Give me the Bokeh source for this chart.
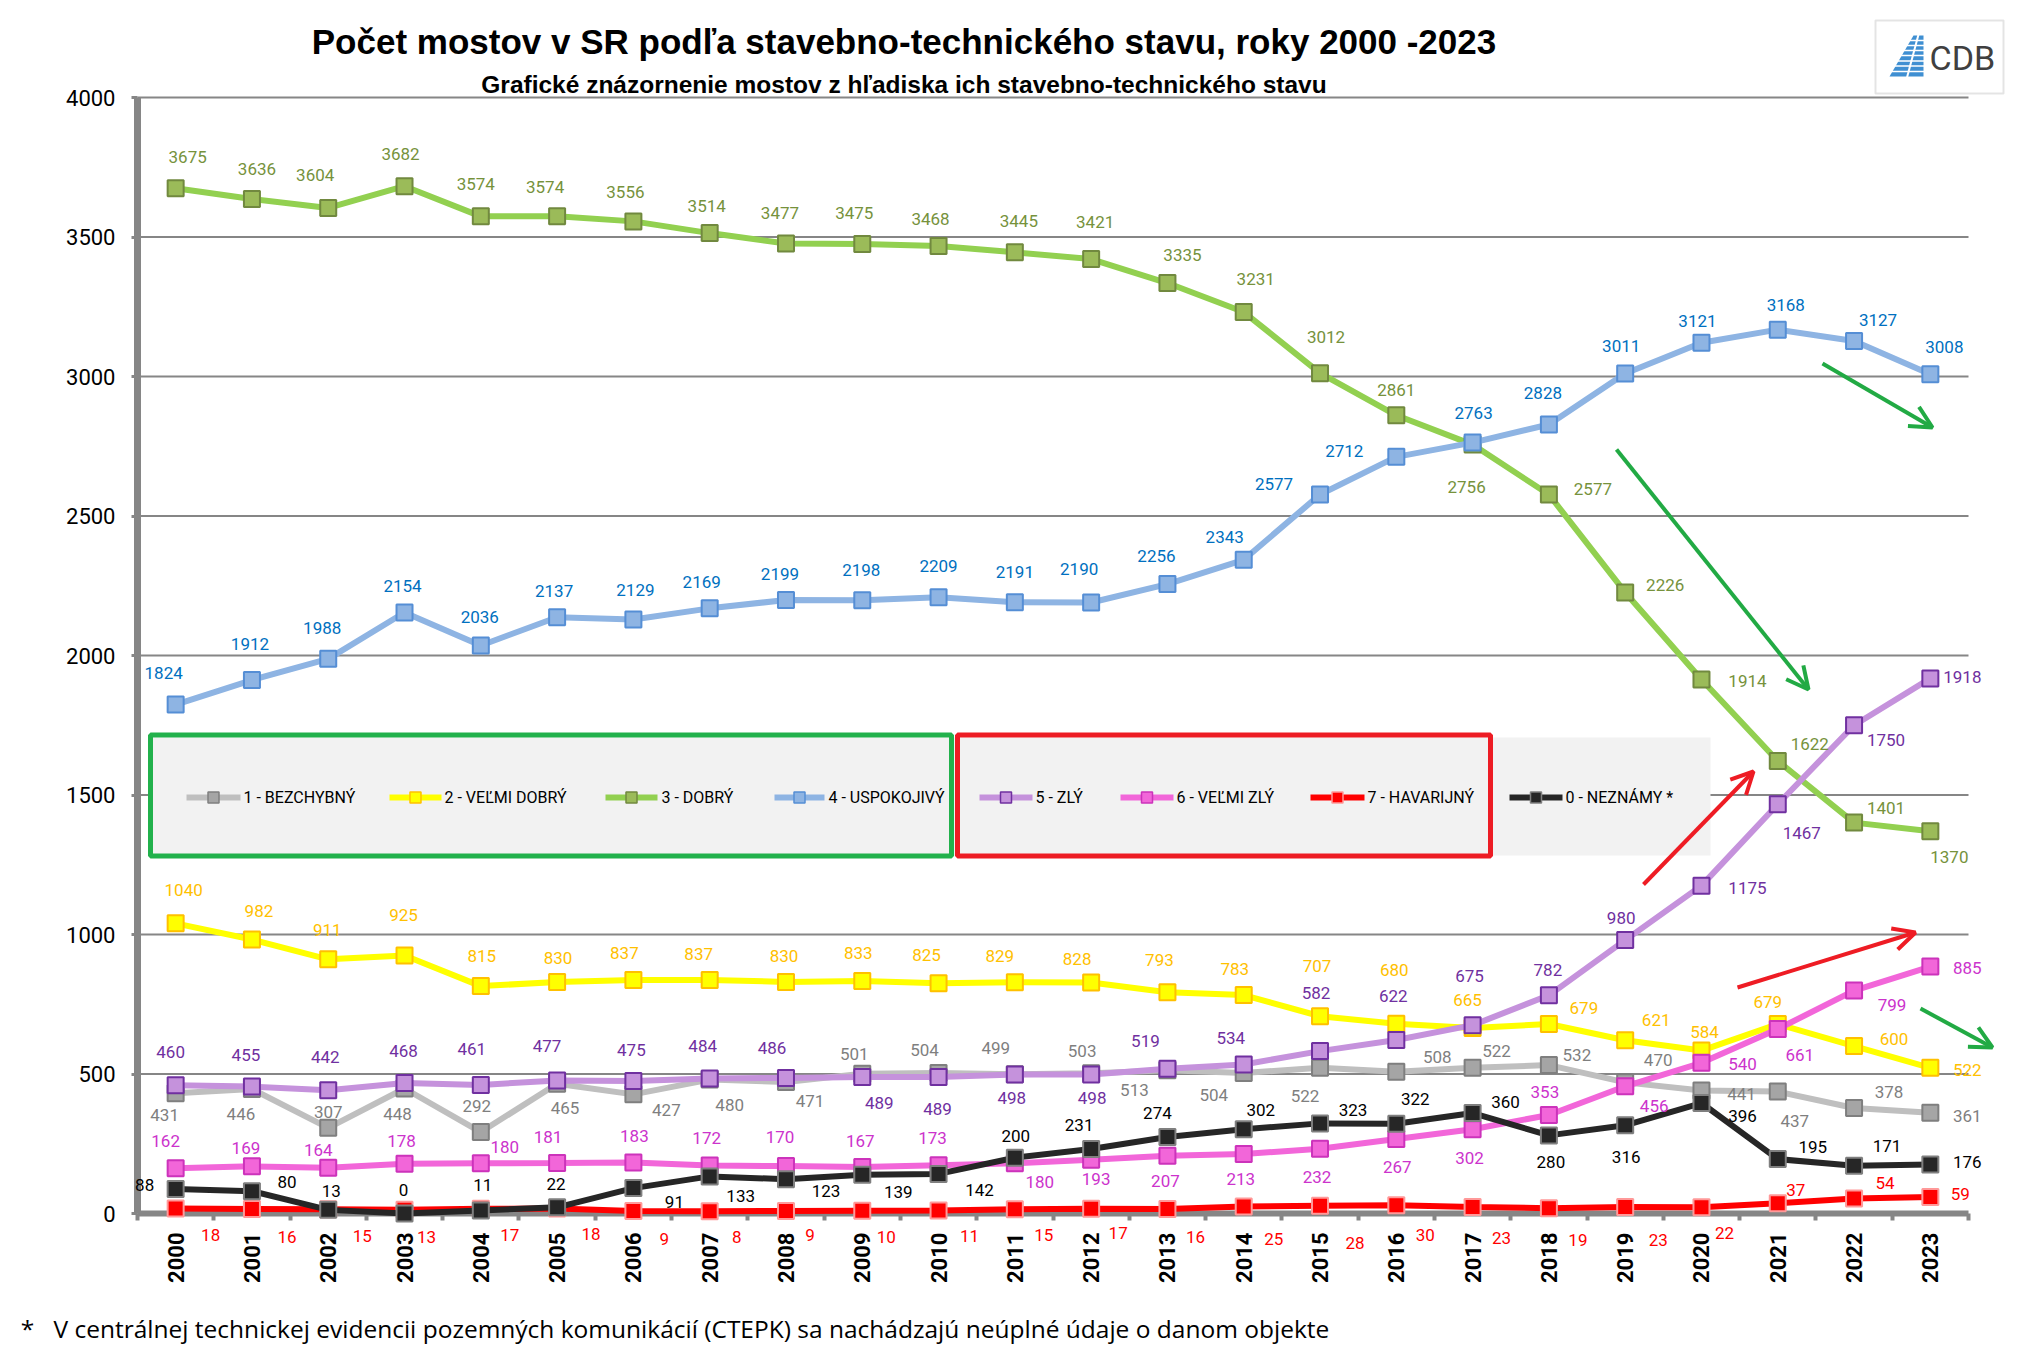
import numpy as np
from bokeh.plotting import figure
from bokeh.models import (Range1d, FixedTicker, LabelSet, ColumnDataSource, Label,
                          Arrow, OpenHead, BoxAnnotation, PolyAnnotation)
from bokeh.core.properties import value
from bokeh.embed import file_html
from bokeh.resources import INLINE

# ---------------- data ----------------
years = list(range(2000, 2024))
year_labels = [str(y) for y in years]

bezchybny = [431, 446, 307, 448, 292, 465, 427, 480, 471, 501, 504, 499, 503, 513, 504, 522, 508, 522, 532, 470, 441, 437, 378, 361]
velmi_dobry = [1040, 982, 911, 925, 815, 830, 837, 837, 830, 833, 825, 829, 828, 793, 783, 707, 680, 665, 679, 621, 584, 679, 600, 522]
dobry = [3675, 3636, 3604, 3682, 3574, 3574, 3556, 3514, 3477, 3475, 3468, 3445, 3421, 3335, 3231, 3012, 2861, 2756, 2577, 2226, 1914, 1622, 1401, 1370]
uspokojivy = [1824, 1912, 1988, 2154, 2036, 2137, 2129, 2169, 2199, 2198, 2209, 2191, 2190, 2256, 2343, 2577, 2712, 2763, 2828, 3011, 3121, 3168, 3127, 3008]
zly = [460, 455, 442, 468, 461, 477, 475, 484, 486, 489, 489, 498, 498, 519, 534, 582, 622, 675, 782, 980, 1175, 1467, 1750, 1918]
velmi_zly = [162, 169, 164, 178, 180, 181, 183, 172, 170, 167, 173, 180, 193, 207, 213, 232, 267, 302, 353, 456, 540, 661, 799, 885]
havarijny = [18, 16, 15, 13, 17, 18, 9, 8, 9, 10, 11, 15, 17, 16, 25, 28, 30, 23, 19, 23, 22, 37, 54, 59]
neznamy = [88, 80, 13, 0, 11, 22, 91, 133, 123, 139, 142, 200, 231, 274, 302, 323, 322, 360, 280, 316, 396, 195, 171, 176]

series_names = ["1 - BEZCHYBNÝ", "2 - VEĽMI DOBRÝ", "3 - DOBRÝ", "4 - USPOKOJIVÝ",
                "5 - ZLÝ", "6 - VEĽMI ZLÝ", "7 - HAVARIJNÝ", "0 - NEZNÁMY  *"]
y_ticks = [0, 500, 1000, 1500, 2000, 2500, 3000, 3500, 4000]

title_text = "Počet mostov v SR podľa stavebno-technického stavu, roky 2000 -2023"
subtitle_text = "Grafické znázornenie mostov z hľadiska ich stavebno-technického stavu"
footnote_text = "V centrálnej  technickej evidencii pozemných komunikácií (CTEPK) sa nachádzajú neúplné údaje o danom objekte"

# ---------------- label offsets (pixels: right, up) ----------------
off_bezchybny = [(-11,-22),(-11,-25),(0,16),(-7,-25),(-4,26),(8,-24),(33,-16),(20,-25),(24,-19),(-8,20),(-14,23),(-19,26),
                 (-9,22),(-33,-20),(-30,-22),(-15,-28),(41,15),(24,17),(28,10),(33,22),(40,-4),(17,-29),(35,16),(37,-3)]
off_velmi_dobry = [(8,33),(7,29),(-1,29),(-1,40),(1,30),(1,24),(-9,27),(-11,26),(-2,26),(-4,28),(-12,28),(-15,26),
                   (-14,23),(-8,32),(-9,26),(-3,50),(-2,54),(-5,28),(35,16),(31,20),(3,19),(-10,22),(40,7),(37,-2)]
off_dobry = [(12,31),(5,30),(-13,33),(-4,32),(-5,32),(-12,29),(-8,29),(-3,27),(-6,30),(-8,31),(-8,27),(4,31),
             (4,37),(15,28),(12,33),(6,36),(0,25),(-6,-42),(44,6),(40,7),(46,-2),(32,17),(32,15),(19,-26)]
off_uspokojivy = [(-12,32),(-2,36),(-6,31),(-2,27),(-1,28),(-3,26),(2,30),(-8,26),(-6,26),(-1,30),(0,31),(0,30),
                  (-12,33),(-11,28),(-19,23),(-46,11),(-52,6),(1,30),(-6,31),(-4,27),(-4,22),(8,25),(24,21),(14,27)]
off_zly = [(-5,33),(-6,32),(-3,33),(-1,32),(-9,36),(-10,34),(-2,31),(-7,32),(-14,30),(17,-26),(-1,-32),(-3,-23),
           (1,-23),(-22,28),(-13,27),(-4,58),(-3,44),(-3,49),(-1,25),(-4,22),(46,-2),(24,-29),(32,-15),(32,1)]
off_velmi_zly = [(-10,27),(-6,18),(-10,18),(-3,23),(24,16),(-9,26),(1,26),(-3,28),(-6,29),(-2,26),(-6,27),(25,-19),
                 (5,-19),(-2,-25),(-3,-25),(-3,-28),(1,-28),(-3,-29),(-4,23),(29,-20),(41,-1),(22,-26),(38,-14),(37,-1)]
off_havarijny = [(35,-27),(35,-28),(34,-27),(22,-27),(29,-26),(34,-26),(31,-28),(27,-26),(24,-24),(24,-26),(31,-26),(29,-26),
                 (27,-24),(28,-28),(30,-32),(35,-37),(29,-30),(29,-31),(29,-32),(33,-33),(23,-26),(18,13),(31,15),(30,3)]
off_neznamy = [(-31,4),(35,9),(3,19),(-1,24),(2,25),(-1,23),(41,-14),(31,-20),(40,-12),(36,-17),(41,-16),(1,22),
               (-12,24),(-10,24),(17,19),(33,13),(19,25),(33,11),(2,-27),(1,-32),(41,-13),(35,12),(33,20),(37,2)]

# ---------------- styles ----------------
# (values, line colour, marker fill, marker edge, label colour, offsets)
styles = [
    (bezchybny,   "#BFBFBF", "#A5A5A5", "#7F7F7F", "#7F7F7F", off_bezchybny),
    (velmi_dobry, "#FFFF00", "#FFFF00", "#FFC000", "#FFC000", off_velmi_dobry),
    (dobry,       "#92D050", "#9BBB59", "#71893F", "#76923C", off_dobry),
    (uspokojivy,  "#8EB4E3", "#8EB4E3", "#558ED5", "#0070C0", off_uspokojivy),
    (zly,         "#C592DC", "#C592DC", "#7030A0", "#7030A0", off_zly),
    (velmi_zly,   "#F266D9", "#F266D9", "#CC33BB", "#CC33CC", off_velmi_zly),
    (havarijny,   "#FF0000", "#FF0000", "#FF9999", "#FF0000", off_havarijny),
    (neznamy,     "#262626", "#262626", "#7F7F7F", "#000000", off_neznamy),
]

# ---------------- geometry ----------------
W, H = 2036, 1356                    # canvas (the whole canvas is the plot frame)
AX_LEFT_PX, AX_ZERO_PX = 137, 1213   # pixel position of the axes
PLOT_W_PX, PLOT_H_PX = 1831, 1116    # pixel size of the 1999.5..2023.5 x 0..4000 area
XA, XB = 1999.5, 2023.5
YA, YB = 0, 4000
XU = (XB - XA) / PLOT_W_PX
YU = (YB - YA) / PLOT_H_PX

def fx(px):
    return XA + (px - AX_LEFT_PX) * XU

def fy(py):
    return YA + (AX_ZERO_PX - py) * YU

p = figure(width=W, height=H,
           x_range=Range1d(fx(0), fx(W)), y_range=Range1d(fy(H), fy(0)),
           output_backend="svg", toolbar_location=None,
           min_border=0, min_border_left=0, min_border_right=0,
           min_border_top=0, min_border_bottom=0)
p.outline_line_color = None
p.background_fill_color = "white"
p.border_fill_color = "white"
p.xgrid.visible = False
p.ygrid.visible = False

# axes (fixed at the data origin)
p.yaxis.fixed_location = XA
p.yaxis.bounds = (YA, YB)
p.yaxis.ticker = FixedTicker(ticks=y_ticks)
p.yaxis.axis_line_color = "#868686"
p.yaxis.axis_line_width = 7
p.yaxis.major_tick_line_color = "#868686"
p.yaxis.major_tick_line_width = 3
p.yaxis.major_tick_out = 6
p.yaxis.major_tick_in = 0
p.yaxis.minor_tick_line_color = None
p.yaxis.major_label_text_font = "Roboto"
p.yaxis.major_label_text_font_size = "22px"
p.yaxis.major_label_text_color = "black"
p.yaxis.major_label_standoff = 16

p.xaxis.fixed_location = YA
p.xaxis.bounds = (XA, XB)
p.xaxis.ticker = FixedTicker(ticks=years, minor_ticks=[y - 0.5 for y in years] + [years[-1] + 0.5])
p.xaxis.major_label_overrides = {y: s for y, s in zip(years, year_labels)}
p.xaxis.axis_line_color = "#868686"
p.xaxis.axis_line_width = 6
p.xaxis.major_tick_line_color = None
p.xaxis.major_tick_out = 0
p.xaxis.major_tick_in = 0
p.xaxis.minor_tick_line_color = "#868686"
p.xaxis.minor_tick_line_width = 4
p.xaxis.minor_tick_out = 7
p.xaxis.minor_tick_in = 0
p.xaxis.major_label_orientation = np.pi / 2
p.xaxis.major_label_text_font = "Roboto"
p.xaxis.major_label_text_font_size = "22px"
p.xaxis.major_label_text_font_style = "bold"
p.xaxis.major_label_text_color = "black"
p.xaxis.major_label_standoff = 12
p.xaxis.level = "underlay"
p.yaxis.level = "underlay"

# horizontal grid lines limited to the plot area
grid_y = y_ticks[1:]
p.segment(x0=[XA] * len(grid_y), y0=grid_y, x1=[XB] * len(grid_y), y1=grid_y,
          line_color="#868686", line_width=2)

# ---------------- legend box (drawn as glyphs) ----------------
p.quad(left=fx(148), right=fx(1710), top=fy(737), bottom=fy(855),
       fill_color="#F2F2F2", line_color=None)
p.quad(left=fx(150), right=fx(951), top=fy(734.5), bottom=fy(855.5),
       fill_alpha=0, line_color="#22B14C", line_width=5)
p.quad(left=fx(957), right=fx(1490), top=fy(734.5), bottom=fy(855.5),
       fill_alpha=0, line_color="#ED1C24", line_width=5)

legend_pos = [(186, 240, 243), (389, 441, 444), (605, 657, 661), (774, 824, 828),
              (979, 1032, 1035), (1120, 1173, 1176), (1310, 1364, 1367), (1509, 1562, 1565)]
LEG_Y = 797
for name, st, (a, b, t) in zip(series_names, styles, legend_pos):
    _, lc, mf, me, _, _ = st
    p.segment(x0=[fx(a)], y0=[fy(LEG_Y)], x1=[fx(b)], y1=[fy(LEG_Y)], line_color=lc, line_width=6)
    p.scatter(x=[fx((a + b) / 2)], y=[fy(LEG_Y)], marker="square", size=11,
              fill_color=mf, line_color=me, line_width=1.5)
    p.text(x=[fx(t)], y=[fy(LEG_Y)], text=[name], text_font=value("Roboto"),
           text_font_size="16px", text_color="black", text_align="left", text_baseline="middle")

# ---------------- series ----------------
for vals, lc, mf, me, tc, offs in styles:
    src = ColumnDataSource(dict(x=years, y=vals))
    p.line("x", "y", source=src, line_color=lc, line_width=6)
    p.scatter("x", "y", source=src, marker="square", size=16,
              fill_color=mf, line_color=me, line_width=2)

for vals, lc, mf, me, tc, offs in styles:
    lx = [yr + dx * XU for yr, (dx, dy) in zip(years, offs)]
    ly = [v + dy * YU for v, (dx, dy) in zip(vals, offs)]
    lsrc = ColumnDataSource(dict(x=lx, y=ly, t=[str(v) for v in vals]))
    p.add_layout(LabelSet(x="x", y="y", text="t", source=lsrc, text_align="center",
                          text_baseline="middle", text_font=value("Roboto"),
                          text_font_size="17px", text_color=tc))

# ---------------- arrows ----------------
arrows = [((1822, 363), (1932, 427), "#22AA44"),
          ((1616, 449), (1808, 689), "#22AA44"),
          ((1643, 884), (1753, 771), "#EE1C24"),
          ((1737, 987), (1915, 932), "#EE1C24"),
          ((1920, 1008), (1992, 1047), "#22AA44")]
for (sx, sy), (ex, ey), col in arrows:
    p.add_layout(Arrow(end=OpenHead(line_color=col, line_width=4, size=22),
                       x_start=fx(sx), y_start=fy(sy), x_end=fx(ex), y_end=fy(ey),
                       line_color=col, line_width=4))

# ---------------- titles & footnote ----------------
p.add_layout(Label(x=fx(903.5), y=fy(40.5), text=title_text, text_align="center",
                   text_baseline="middle", text_font="Liberation Sans",
                   text_font_style="bold", text_font_size="35px", text_color="black"))
p.add_layout(Label(x=fx(903.5), y=fy(83.5), text=subtitle_text, text_align="center",
                   text_baseline="middle", text_font="Liberation Sans",
                   text_font_style="bold", text_font_size="24.5px", text_color="black"))
p.add_layout(Label(x=fx(27), y=fy(1328), text="*", text_align="center",
                   text_baseline="middle", text_font="Open Sans",
                   text_font_size="24.5px", text_color="black"))
p.add_layout(Label(x=fx(53), y=fy(1328), text=footnote_text, text_align="left",
                   text_baseline="middle", text_font="Open Sans",
                   text_font_size="24.5px", text_color="black"))

# ---------------- logo ----------------
p.add_layout(BoxAnnotation(left=fx(1875), right=fx(2003), top=fy(20), bottom=fy(93),
                           fill_color="white", fill_alpha=1, line_color="#A6A6A6", line_width=2))
p.add_layout(PolyAnnotation(xs=[fx(1889), fx(1923), fx(1923), fx(1913)],
                            ys=[fy(76), fy(76), fy(35), fy(35)],
                            fill_color="#3F8FD2", fill_alpha=1, line_color=None))
for sy_ in [40, 45, 50, 55, 60.5, 65.5, 71]:
    xl = 1889 + (76 - sy_) / (76 - 35) * (1913 - 1889)
    p.add_layout(Arrow(end=None, x_start=fx(xl - 1), y_start=fy(sy_), x_end=fx(1924), y_end=fy(sy_),
                       line_color="white", line_width=1.5))
p.add_layout(Arrow(end=None, x_start=fx(1918), y_start=fy(34), x_end=fx(1906.5), y_end=fy(77),
                   line_color="white", line_width=2))
p.add_layout(Label(x=fx(1929), y=fy(57), text="CDB", text_align="left",
                   text_baseline="middle", text_font="Roboto",
                   text_font_size="34px", text_color="#404040"))

open("out.html", "w").write(file_html(p, INLINE))
